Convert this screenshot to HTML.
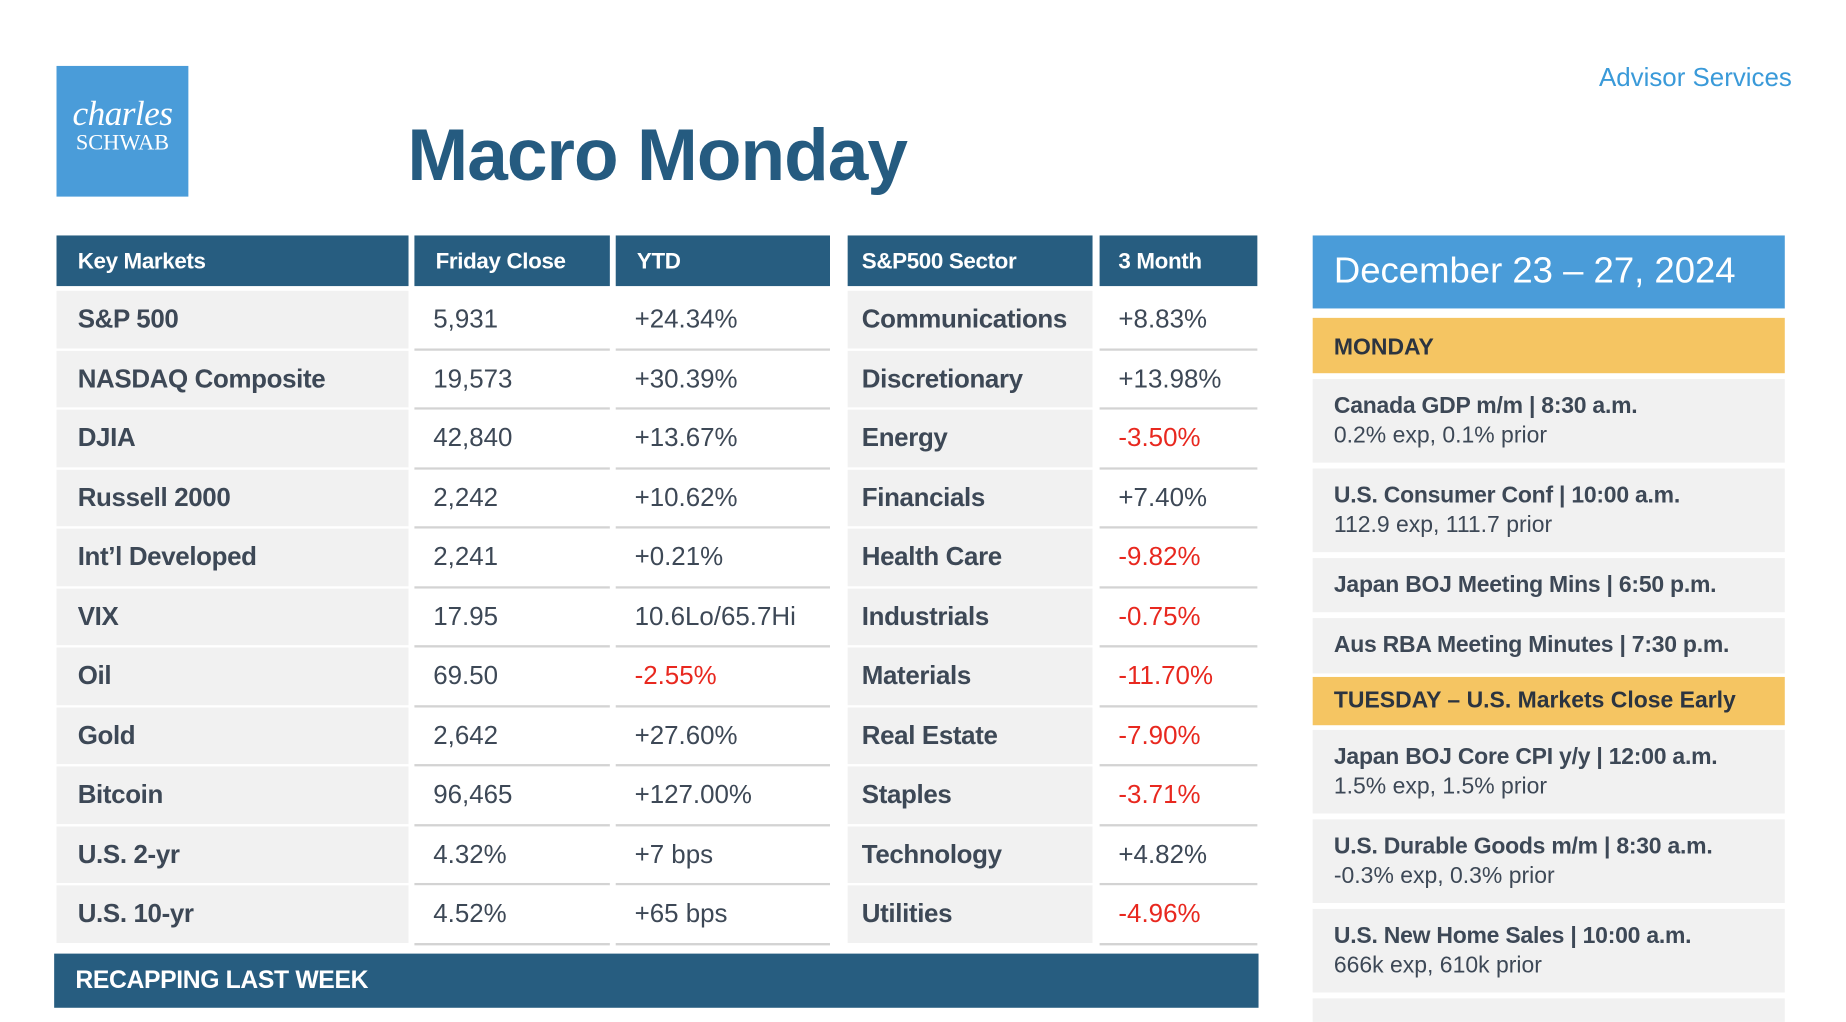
<!DOCTYPE html>
<html><head><meta charset="utf-8">
<style>
html,body{margin:0;padding:0;background:#fff;width:1846px;height:1012px;overflow:hidden}
#w{position:absolute;left:0;top:0;width:1568px;height:860px;transform:scale(1.1773);transform-origin:0 0;font-family:"Liberation Sans",Arial,sans-serif}
.a{position:absolute;box-sizing:border-box}
.hd{background:#275d80;color:#fff;font-weight:bold;font-size:19px;line-height:46px;padding-left:18px;letter-spacing:-0.3px}
.cl{background:#f1f1f1;color:#3d4856;font-weight:bold;font-size:22px;padding-left:18px;display:flex;align-items:center;letter-spacing:-0.3px}
.cv{background:#fff;color:#3d4856;font-size:22px;padding-left:16px;display:flex;align-items:center;border-bottom:2px solid #d3d3d3}
.neg{color:#e8281f}
.ev{background:#f1f1f1;color:#3d4856;padding-left:18px;font-size:19.5px;display:flex;flex-direction:column;justify-content:center;line-height:25px}
.ev b{letter-spacing:-0.2px}
.day{background:#f5c562;color:#2b3440;font-weight:bold;font-size:19.5px;padding-left:18px;display:flex;align-items:center}
</style></head><body>
<div id="w">
<div class="a" style="left:48px;top:56px;width:112px;height:111px;background:#4a9cd9;color:#fff;text-align:center">
<div style="font-family:'Liberation Serif',serif;font-style:italic;font-size:30px;margin-top:26px;line-height:30px;letter-spacing:-0.5px">charles</div>
<div style="font-family:'Liberation Serif',serif;font-size:19px;line-height:20px">SCHWAB</div></div>
<div class="a" style="right:46px;top:53px;color:#3a9ad9;font-size:22px">Advisor Services</div>
<div class="a" style="left:346px;top:97px;color:#255b80;font-size:62px;font-weight:bold;letter-spacing:-0.8px">Macro Monday</div>

<div class="a hd" style="left:48px;top:200px;width:299px;height:43px">Key Markets</div>
<div class="a hd" style="left:352px;top:200px;width:166px;height:43px">Friday Close</div>
<div class="a hd" style="left:523px;top:200px;width:182px;height:43px">YTD</div>
<div class="a hd" style="left:720px;top:200px;width:208px;height:43px;padding-left:12px">S&amp;P500 Sector</div>
<div class="a hd" style="left:934px;top:200px;width:134px;height:43px;padding-left:16px">3 Month</div>
<div id="rows"></div>

<div class="a" style="left:46px;top:810px;width:1023px;height:46px;background:#275d80;color:#fff;font-weight:bold;font-size:21px;line-height:46px;padding-left:18px;letter-spacing:-0.3px">RECAPPING LAST WEEK</div>

<div class="a" style="left:1115px;top:200px;width:401px;height:62px;background:#4a9cd9;color:#fff;font-size:31px;line-height:60px;padding-left:18px">December 23 – 27, 2024</div>
<div class="a day" style="left:1115px;top:270px;width:401px;height:47px;padding-top:4px">MONDAY</div>
<div class="a ev" style="left:1115px;top:322px;width:401px;height:71px"><b>Canada GDP m/m | 8:30 a.m.</b><span>0.2% exp, 0.1% prior</span></div>
<div class="a ev" style="left:1115px;top:398px;width:401px;height:71px"><b>U.S. Consumer Conf | 10:00 a.m.</b><span>112.9 exp, 111.7 prior</span></div>
<div class="a ev" style="left:1115px;top:474px;width:401px;height:46px"><b>Japan BOJ Meeting Mins | 6:50 p.m.</b></div>
<div class="a ev" style="left:1115px;top:525px;width:401px;height:47px"><b>Aus RBA Meeting Minutes | 7:30 p.m.</b></div>
<div class="a day" style="left:1115px;top:575px;width:401px;height:41px">TUESDAY – U.S. Markets Close Early</div>
<div class="a ev" style="left:1115px;top:620px;width:401px;height:71px"><b>Japan BOJ Core CPI y/y | 12:00 a.m.</b><span>1.5% exp, 1.5% prior</span></div>
<div class="a ev" style="left:1115px;top:696px;width:401px;height:71px"><b>U.S. Durable Goods m/m | 8:30 a.m.</b><span>-0.3% exp, 0.3% prior</span></div>
<div class="a ev" style="left:1115px;top:772px;width:401px;height:71px"><b>U.S. New Home Sales | 10:00 a.m.</b><span>666k exp, 610k prior</span></div>
<div class="a ev" style="left:1115px;top:848px;width:401px;height:20px"></div>
</div>
<script>
const markets=["S&P 500","NASDAQ Composite","DJIA","Russell 2000","Int’l Developed","VIX","Oil","Gold","Bitcoin","U.S. 2-yr","U.S. 10-yr"];
const closes=["5,931","19,573","42,840","2,242","2,241","17.95","69.50","2,642","96,465","4.32%","4.52%"];
const ytd=["+24.34%","+30.39%","+13.67%","+10.62%","+0.21%","10.6Lo/65.7Hi","-2.55%","+27.60%","+127.00%","+7 bps","+65 bps"];
const sectors=["Communications","Discretionary","Energy","Financials","Health Care","Industrials","Materials","Real Estate","Staples","Technology","Utilities"];
const month3=["+8.83%","+13.98%","-3.50%","+7.40%","-9.82%","-0.75%","-11.70%","-7.90%","-3.71%","+4.82%","-4.96%"];
const host=document.getElementById('rows');
function cell(cls,x,y,w,h,txt,name){
  const d=document.createElement('div');
  d.className='a '+cls+(txt.startsWith('-')?' neg':'');
  d.style.cssText=`left:${x}px;top:${y}px;width:${w}px;height:${h}px`;
  d.textContent=txt;
  
  
  host.appendChild(d);
}
for(let i=0;i<markets.length;i++){
  const y=247+i*50.5,h=48.5;
  cell('cl',48,y,299,h,markets[i],'market-name');
  cell('cv',352,y,166,h+2,closes[i],'friday-close-value');
  cell('cv',523,y,182,h+2,ytd[i],'ytd-value');
  cell('cl',720,y,208,h,sectors[i],'sector-name');
  host.lastChild.style.paddingLeft='12px';
  cell('cv',934,y,134,h+2,month3[i],'three-month-value');
}
</script>
</body></html>
